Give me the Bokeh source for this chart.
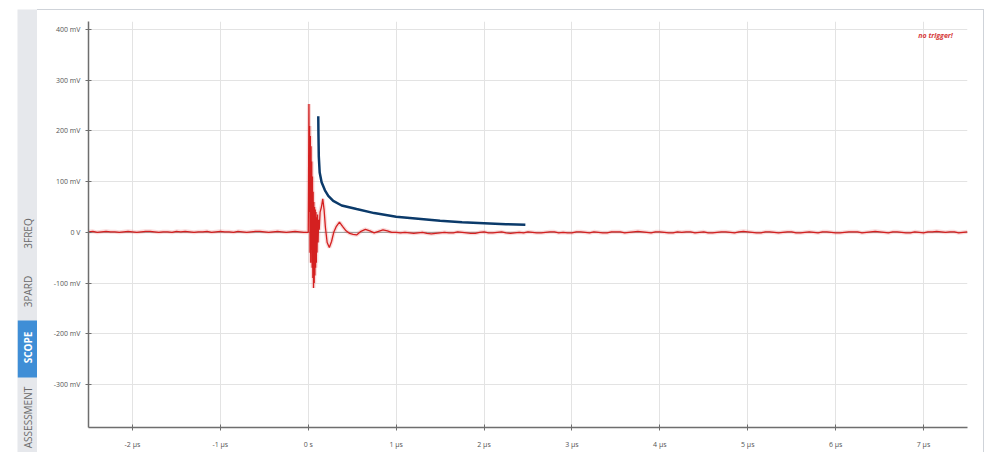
import math
from bokeh.plotting import figure
from bokeh.layouts import row, column
from bokeh.models import Range1d, FixedTicker, Span, Label, Spacer
from bokeh.core.properties import value
from bokeh.embed import file_html
from bokeh.resources import INLINE

# ---------------- data ----------------
x_ticks = [-2, -1, 0, 1, 2, 3, 4, 5, 6, 7]
x_labels = ["-2 µs", "-1 µs", "0 s", "1 µs", "2 µs", "3 µs", "4 µs", "5 µs", "6 µs", "7 µs"]
y_ticks = [-300, -200, -100, 0, 100, 200, 300, 400]
y_labels = ["-300 mV", "-200 mV", "-100 mV", "0 V", "100 mV", "200 mV", "300 mV", "400 mV"]

# baseline noise before trigger (µs step 0.05 from -2.5), mV
pre_start = -2.5
noise_pre = [1, 2, 0, 1, 2, 1, 1, 0, 1, 2, 1, 0, 1, 2, 2, 1, 0, 1, 1, 0,
             2, 1, 2, 1, 0, 1, 1, 2, 0, 1, 2, 1, 1, 0, 2, 1, 0, 1, 2, 2,
             1, 0, 1, 2, 1, 0, 1, 2, 1, 0]
# burst (µs, mV)
burst_t = [0.000, 0.004, 0.008, 0.012, 0.016, 0.020, 0.024, 0.028, 0.032, 0.036,
           0.040, 0.044, 0.048, 0.052, 0.056, 0.060, 0.064, 0.068, 0.072, 0.076,
           0.080, 0.084, 0.088, 0.092, 0.096, 0.100, 0.106, 0.112, 0.118, 0.125,
           0.135, 0.150, 0.165, 0.180, 0.195, 0.215, 0.240, 0.265, 0.290, 0.320,
           0.355, 0.390, 0.430, 0.470, 0.510, 0.550, 0.600, 0.650, 0.700, 0.750,
           0.800, 0.850, 0.900, 0.950, 1.000]
burst_v = [0, 120, 253, 40, 210, -40, 190, -60, 170, -30,
           140, -70, 110, -90, 80, -110, 60, -100, 50, -85,
           45, -70, 40, -60, 30, -40, 35, -20, 25, 5,
           40, 50, 66, 45, 10, -20, -30, -18, 0, 12,
           20, 12, 3, -2, -4, -5, 2, 6, 3, -1,
           2, 5, 3, 0, 0]
# baseline noise after burst (µs step 0.05 from 1.05), mV
post_start = 1.05
noise_post = [-1, 0, -1, -2, -1, 0, -2, -3, -2, -1, 0, -1, -1, 1, 0, -1, -2, -2, 0, 1,
              -1, -1, 0, 1, -1, -2, -1, 0, -1, 1, 0, -1, -1, 0, 1, 1, -1, 0, -1, -1,
              1, 1, 0, -1, 1, 0, -1, -1, 1, 1, 1, -1, 0, 1, 2, 1, 0, -1, 1, 1,
              0, -1, -1, 1, 0, 1, 1, -1, 0, 1, -1, -1, 0, 1, 1, 0, -1, 1, 2, 1,
              0, -1, -1, 1, 1, 0, -1, 0, 1, 1, -1, -1, 0, 1, 0, -1, 1, 1, 0, -1,
              -1, 0, 1, 1, 1, -1, 0, 1, 2, 1, 0, -1, 1, 1, 0, -1, -1, 1, 0, -1,
              1, 1, 2, 1, 0, 1, 1, -1, 0, 1]
step = 0.05

# hand-drawn envelope curve (µs, mV)
env_t = [0.114, 0.116, 0.12, 0.13, 0.152, 0.19, 0.228, 0.284, 0.38, 0.55,
         0.75, 1.0, 1.25, 1.5, 1.75, 2.0, 2.25, 2.47]
env_v = [229, 195, 150, 118, 99, 83, 72, 62, 53, 46,
         38, 31, 27, 23, 20, 18, 16, 15]

tabs = ["3FREQ", "3PARD", "SCOPE", "ASSESSMENT"]
active_tab = "SCOPE"

# ---------------- build series ----------------
t_pre = [round(pre_start + i * step, 3) for i in range(len(noise_pre))]
t_post = [round(post_start + i * step, 3) for i in range(len(noise_post))]
sig_t = t_pre + burst_t + t_post
sig_v = noise_pre + burst_v + noise_post

FONT = "Open Sans"
BORDER = "#cfd3d9"
STRIP = "#e6e8ec"
BLUE = "#3f8ed6"

# ---------------- main chart ----------------
p = figure(width=946, height=442, output_backend="svg", toolbar_location=None,
           x_range=Range1d(-2.5, 7.5), y_range=Range1d(-385, 416),
           min_border_left=51, min_border_right=16, min_border_top=11, min_border_bottom=25)
p.outline_line_color = None
p.background_fill_color = "white"
p.border_fill_color = "white"

p.xaxis.ticker = FixedTicker(ticks=x_ticks)
p.xaxis.major_label_overrides = {t: l for t, l in zip(x_ticks, x_labels)}
p.yaxis.ticker = FixedTicker(ticks=y_ticks)
p.yaxis.major_label_overrides = {t: l for t, l in zip(y_ticks, y_labels)}
for ax in (p.xaxis, p.yaxis):
    ax.axis_line_color = "#6e6e6e"
    ax.axis_line_width = 1.5
    ax.major_tick_line_color = "#6e6e6e"
    ax.major_tick_in = 3
    ax.major_tick_out = 3
    ax.minor_tick_line_color = None
    ax.major_label_text_font_size = "7px"
    ax.major_label_text_color = "#555555"
    ax.major_label_text_font = FONT
p.xaxis.major_label_standoff = 9
p.yaxis.major_label_standoff = 5

p.xgrid.grid_line_color = "#e3e3e3"
p.ygrid.grid_line_color = "#e3e3e3"

p.add_layout(Span(location=0, dimension="width", line_color="#9a9a9a", line_width=1, level="underlay"))

p.line(sig_t, sig_v, line_color="#e03030", line_width=4, line_alpha=0.18)
p.line(sig_t, sig_v, line_color="#d42020", line_width=1.3)
p.line(env_t, env_v, line_color="#0b3a6a", line_width=2.5)

p.add_layout(Label(x=6.94, y=388, text="no trigger!", text_font=FONT,
                   text_font_size="7px", text_font_style="bold italic",
                   text_color="#d63a3a", text_align="left", text_baseline="middle"))

# ---------------- left tab strip ----------------
strip = figure(width=20, height=443, output_backend="svg", toolbar_location=None,
               x_range=Range1d(0, 20), y_range=Range1d(0, 443),
               x_axis_type=None, y_axis_type=None,
               min_border_left=0, min_border_right=0, min_border_top=0, min_border_bottom=0)
strip.outline_line_color = None
strip.xgrid.visible = False
strip.ygrid.visible = False
strip.background_fill_color = STRIP
strip.border_fill_color = STRIP
# page y -> data y = 452 - page_y
strip.quad(left=0, right=20, bottom=75, top=132, fill_color=BLUE, line_color=None)
tab_y = [219, 161, 105, 35]
tab_col = ["white" if t == active_tab else "#6a6a6a" for t in tabs]
tab_style = ["bold" if t == active_tab else "normal" for t in tabs]
strip.text(x=[10] * len(tabs), y=tab_y, text=tabs, angle=math.pi / 2,
           text_align="center", text_baseline="middle",
           text_font=value(FONT), text_font_size="10px",
           text_color=tab_col, text_font_style=tab_style)

def bar(w, h, color):
    return Spacer(width=w, height=h, styles={"background-color": color})

body = column(bar(946, 1, BORDER), p, spacing=0)
layout = column(
    Spacer(width=993, height=9),
    row(Spacer(width=17, height=443), column(strip), body, bar(1, 443, BORDER), spacing=0),
    spacing=0,
)
open("out.html", "w").write(file_html(layout, INLINE))
